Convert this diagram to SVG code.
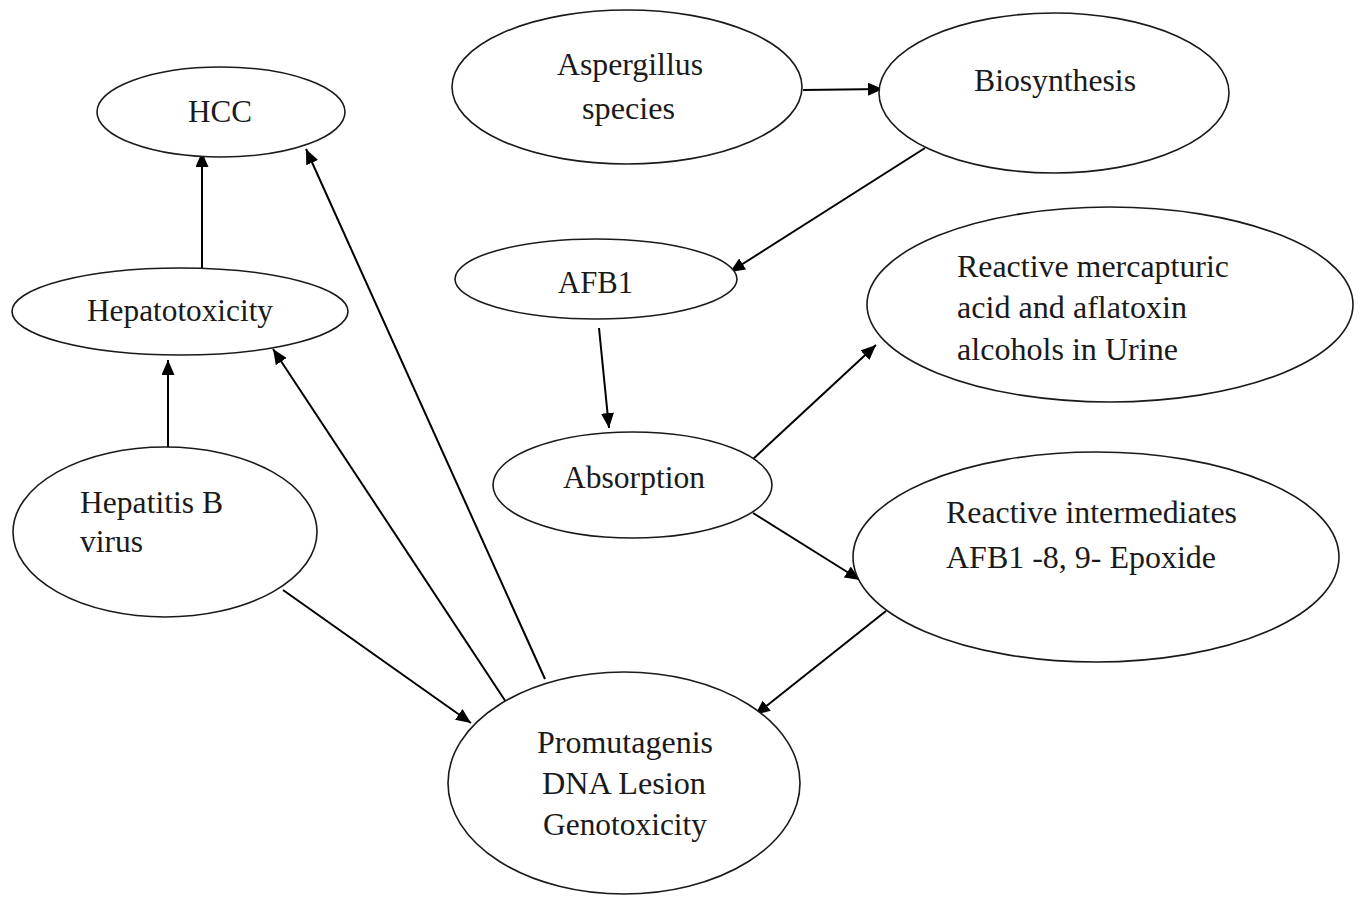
<svg xmlns="http://www.w3.org/2000/svg" width="1361" height="897" viewBox="0 0 1361 897">
<style>
  .node ellipse { fill: #ffffff; stroke: #1a1a1a; stroke-width: 1.6; }
  .node text { font-family: "Liberation Serif", "Times New Roman", serif; font-size: 32px; fill: #1a1a1a; }
  .edge { stroke: #000000; stroke-width: 2; fill: none; marker-end: url(#arrow); }
</style>
<defs>
  <marker id="arrow" markerUnits="userSpaceOnUse" markerWidth="16" markerHeight="13" refX="15" refY="6.5" orient="auto">
    <path d="M0,0 L15,6.5 L0,13 z" fill="#000000"/>
  </marker>
</defs>
<rect width="1361" height="897" fill="#ffffff"/>

<g id="connectors">
  <line class="edge" x1="202" y1="268" x2="202" y2="152"/>
  <line class="edge" x1="545" y1="679" x2="306" y2="149"/>
  <line class="edge" x1="168" y1="447" x2="168" y2="360"/>
  <line class="edge" x1="506" y1="702" x2="273" y2="349"/>
  <line class="edge" x1="283" y1="590" x2="471" y2="723"/>
  <line class="edge" x1="803" y1="90" x2="883" y2="89"/>
  <line class="edge" x1="925" y1="148" x2="730" y2="272"/>
  <line class="edge" x1="599" y1="328" x2="609" y2="428"/>
  <line class="edge" x1="753" y1="459" x2="876" y2="345"/>
  <line class="edge" x1="753" y1="513" x2="860" y2="580"/>
  <line class="edge" x1="886" y1="611" x2="755" y2="715"/>
</g>

<g id="hcc" class="node">
  <ellipse cx="221" cy="112" rx="124" ry="45"/>
  <text x="188" y="122" textLength="64" lengthAdjust="spacingAndGlyphs">HCC</text>
</g>
<g id="hepatotoxicity" class="node">
  <ellipse cx="180" cy="311.5" rx="168" ry="43.5"/>
  <text x="87" y="321" textLength="186" lengthAdjust="spacingAndGlyphs">Hepatotoxicity</text>
</g>
<g id="hepatitis-b" class="node">
  <ellipse cx="165" cy="532" rx="152" ry="85"/>
  <text x="80" y="513" textLength="143" lengthAdjust="spacingAndGlyphs">Hepatitis B</text>
  <text x="80" y="552" textLength="63" lengthAdjust="spacingAndGlyphs">virus</text>
</g>
<g id="aspergillus" class="node">
  <ellipse cx="627" cy="87" rx="175" ry="77"/>
  <text x="557" y="75" textLength="146" lengthAdjust="spacingAndGlyphs">Aspergillus</text>
  <text x="582" y="119" textLength="93" lengthAdjust="spacingAndGlyphs">species</text>
</g>
<g id="biosynthesis" class="node">
  <ellipse cx="1054" cy="93" rx="175" ry="80"/>
  <text x="974" y="91" textLength="162" lengthAdjust="spacingAndGlyphs">Biosynthesis</text>
</g>
<g id="afb1" class="node">
  <ellipse cx="596" cy="279" rx="141" ry="40"/>
  <text x="558" y="293" textLength="75" lengthAdjust="spacingAndGlyphs">AFB1</text>
</g>
<g id="mercapturic" class="node">
  <ellipse cx="1110" cy="304.5" rx="243" ry="97.5"/>
  <text x="957" y="277" textLength="272" lengthAdjust="spacingAndGlyphs">Reactive mercapturic</text>
  <text x="957" y="318" textLength="230" lengthAdjust="spacingAndGlyphs">acid and aflatoxin</text>
  <text x="957" y="360" textLength="221" lengthAdjust="spacingAndGlyphs">alcohols in Urine</text>
</g>
<g id="absorption" class="node">
  <ellipse cx="632.5" cy="485" rx="139.5" ry="53"/>
  <text x="563" y="488" textLength="142" lengthAdjust="spacingAndGlyphs">Absorption</text>
</g>
<g id="intermediates" class="node">
  <ellipse cx="1096" cy="557" rx="243" ry="105"/>
  <text x="946" y="523" textLength="291" lengthAdjust="spacingAndGlyphs">Reactive intermediates</text>
  <text x="946" y="568" textLength="270" lengthAdjust="spacingAndGlyphs">AFB1 -8, 9- Epoxide</text>
</g>
<g id="promutagenis" class="node">
  <ellipse cx="624" cy="783" rx="176" ry="111"/>
  <text x="537" y="753" textLength="176" lengthAdjust="spacingAndGlyphs">Promutagenis</text>
  <text x="542" y="794" textLength="164" lengthAdjust="spacingAndGlyphs">DNA Lesion</text>
  <text x="543" y="835" textLength="164" lengthAdjust="spacingAndGlyphs">Genotoxicity</text>
</g>
</svg>
